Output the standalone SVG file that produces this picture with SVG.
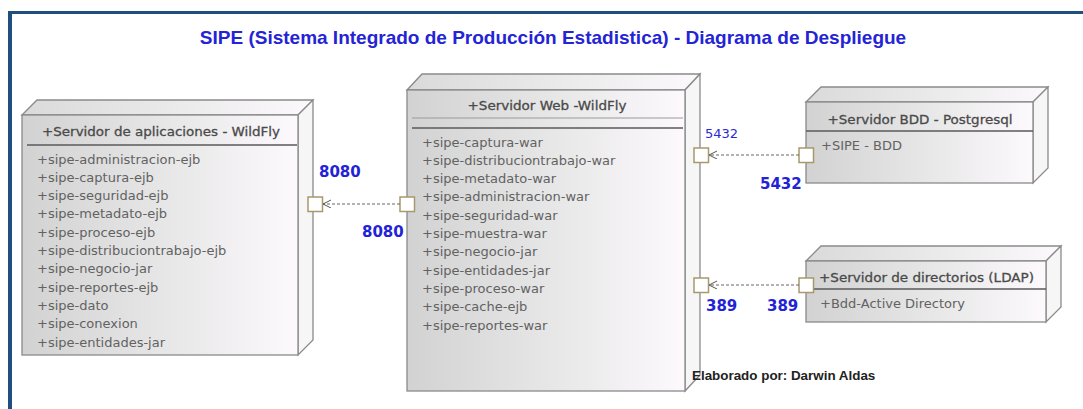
<svg xmlns="http://www.w3.org/2000/svg" width="1083" height="409" viewBox="0 0 1083 409">
<defs>
<linearGradient id="gf" x1="0" y1="0" x2="1" y2="0">
<stop offset="0" stop-color="#d2d2d2"/>
<stop offset="0.55" stop-color="#e8e8e8"/>
<stop offset="1" stop-color="#fdf9fd"/>
</linearGradient>
<linearGradient id="gt" x1="0" y1="0" x2="1" y2="0">
<stop offset="0" stop-color="#dadada"/>
<stop offset="1" stop-color="#fbf9fb"/>
</linearGradient>
<marker id="arr" markerWidth="10" markerHeight="10" refX="8" refY="4" orient="auto" markerUnits="userSpaceOnUse">
<path d="M0,0 L8,4 L0,8" fill="none" stroke="#555" stroke-width="1"/>
</marker>
</defs>
<style>
.front{fill:url(#gf);stroke:#8a8a8a;stroke-width:1.3}
.top{fill:url(#gt);stroke:#8a8a8a;stroke-width:1.3}
.side{fill:#f7f6f7;stroke:#8a8a8a;stroke-width:1.3}
.sep{stroke:#5a5a5a;stroke-width:1.3}
.sep2{stroke:#9a9a9a;stroke-width:1}
.hdr{font-family:"DejaVu Sans",Verdana,sans-serif;font-size:13px;fill:#4a4a4a;stroke:#4a4a4a;stroke-width:0.3;text-anchor:middle}
.itm{font-family:"DejaVu Sans",Verdana,sans-serif;font-size:13px;fill:#626262}
.port{fill:#ffffff;stroke:#a8996c;stroke-width:1.5}
.pl{font-family:"DejaVu Sans",Verdana,sans-serif;font-weight:bold;font-size:15px;fill:#2222d8}
.pls{font-family:"DejaVu Sans",Verdana,sans-serif;font-size:13px;fill:#2a2ad8}
.dep{stroke:#666;stroke-width:1;stroke-dasharray:3,2;fill:none}
</style>
<rect x="0" y="0" width="1083" height="409" fill="#ffffff"/>
<g id="frame">
<line x1="8" y1="12.5" x2="1083" y2="12.5" stroke="#1f4f7e" stroke-width="3"/>
<line x1="10" y1="11" x2="10" y2="409" stroke="#1f4f7e" stroke-width="4"/>
</g>
<text id="title" x="553" y="44" text-anchor="middle" font-family="'Liberation Sans',Arial,sans-serif" font-weight="bold" font-size="19" fill="#2424d6">SIPE (Sistema Integrado de Producción Estadistica) - Diagrama de Despliegue</text>

<g id="node-app">
<polygon class="top" points="22,115 37,100 313,100 298,115"/>
<polygon class="side" points="298,115 313,100 313,340 298,355"/>
<rect class="front" x="22" y="115" width="276" height="240"/>
<text class="hdr" x="161" y="136" textLength="238" lengthAdjust="spacingAndGlyphs">+Servidor de aplicaciones - WildFly</text>
<line class="sep" x1="27" y1="145" x2="297" y2="145"/>
<text class="itm" x="37" y="163.5">+sipe-administracion-ejb</text>
<text class="itm" x="37" y="181.8">+sipe-captura-ejb</text>
<text class="itm" x="37" y="200.1">+sipe-seguridad-ejb</text>
<text class="itm" x="37" y="218.4">+sipe-metadato-ejb</text>
<text class="itm" x="37" y="236.7">+sipe-proceso-ejb</text>
<text class="itm" x="37" y="255">+sipe-distribuciontrabajo-ejb</text>
<text class="itm" x="37" y="273.3">+sipe-negocio-jar</text>
<text class="itm" x="37" y="291.6">+sipe-reportes-ejb</text>
<text class="itm" x="37" y="309.9">+sipe-dato</text>
<text class="itm" x="37" y="328.2">+sipe-conexion</text>
<text class="itm" x="37" y="346.5">+sipe-entidades-jar</text>
<rect class="port" x="308" y="197" width="14.5" height="14.5"/>
<text class="pl" x="319" y="177" font-size="14">8080</text>
</g>

<g id="node-web">
<polygon class="top" points="407,90 422,74 700,74 685,90"/>
<polygon class="side" points="685,90 700,74 700,375 685,391"/>
<rect class="front" x="407" y="90" width="278" height="301"/>
<text class="hdr" x="547" y="110" textLength="159" lengthAdjust="spacingAndGlyphs">+Servidor Web -WildFly</text>
<line class="sep2" x1="412" y1="118" x2="683" y2="118"/>
<line class="sep" x1="412" y1="128" x2="683" y2="128"/>
<text class="itm" x="422" y="146.5">+sipe-captura-war</text>
<text class="itm" x="422" y="164.8">+sipe-distribuciontrabajo-war</text>
<text class="itm" x="422" y="183.1">+sipe-metadato-war</text>
<text class="itm" x="422" y="201.4">+sipe-administracion-war</text>
<text class="itm" x="422" y="219.7">+sipe-seguridad-war</text>
<text class="itm" x="422" y="238">+sipe-muestra-war</text>
<text class="itm" x="422" y="256.3">+sipe-negocio-jar</text>
<text class="itm" x="422" y="274.6">+sipe-entidades-jar</text>
<text class="itm" x="422" y="292.9">+sipe-proceso-war</text>
<text class="itm" x="422" y="311.2">+sipe-cache-ejb</text>
<text class="itm" x="422" y="329.5">+sipe-reportes-war</text>
<rect class="port" x="400" y="197" width="14.5" height="14.5"/>
<rect class="port" x="694" y="148" width="14.5" height="14.5"/>
<rect class="port" x="694" y="278" width="14.5" height="14.5"/>
<text class="pl" x="362" y="237" font-size="15.5">8080</text>
<text class="pls" x="705" y="138">5432</text>
<text class="pl" x="706" y="311">389</text>
</g>

<g id="node-bdd">
<polygon class="top" points="806,102 821,87 1048,87 1033,102"/>
<polygon class="side" points="1033,102 1048,87 1048,168 1033,183"/>
<rect class="front" x="806" y="102" width="227" height="81"/>
<text class="hdr" x="920" y="124" textLength="185" lengthAdjust="spacingAndGlyphs">+Servidor BDD - Postgresql</text>
<line class="sep" x1="806" y1="131" x2="1033" y2="131"/>
<text class="itm" x="821" y="149.5">+SIPE - BDD</text>
<rect class="port" x="799" y="148" width="14.5" height="14.5"/>
<text class="pl" x="760" y="189" font-size="16">5432</text>
</g>

<g id="node-ldap">
<polygon class="top" points="806,261 821,246 1061,246 1046,261"/>
<polygon class="side" points="1046,261 1061,246 1061,307 1046,322"/>
<rect class="front" x="806" y="261" width="240" height="61"/>
<text class="hdr" x="926.5" y="282" textLength="215" lengthAdjust="spacingAndGlyphs">+Servidor de directorios (LDAP)</text>
<line class="sep" x1="806" y1="289" x2="1046" y2="289"/>
<text class="itm" x="820" y="307.5">+Bdd-Active Directory</text>
<rect class="port" x="799" y="278" width="14.5" height="14.5"/>
<text class="pl" x="767" y="311">389</text>
</g>

<g id="connectors">
<line class="dep" x1="400" y1="204" x2="323" y2="204" marker-end="url(#arr)"/>
<line class="dep" x1="799" y1="155" x2="709" y2="155" marker-end="url(#arr)"/>
<line class="dep" x1="799" y1="285" x2="709" y2="285" marker-end="url(#arr)"/>
</g>

<text id="author" x="692" y="380" font-family="'Liberation Sans',Arial,sans-serif" font-weight="bold" font-size="13.4" fill="#222">Elaborado por: Darwin Aldas</text>
</svg>
